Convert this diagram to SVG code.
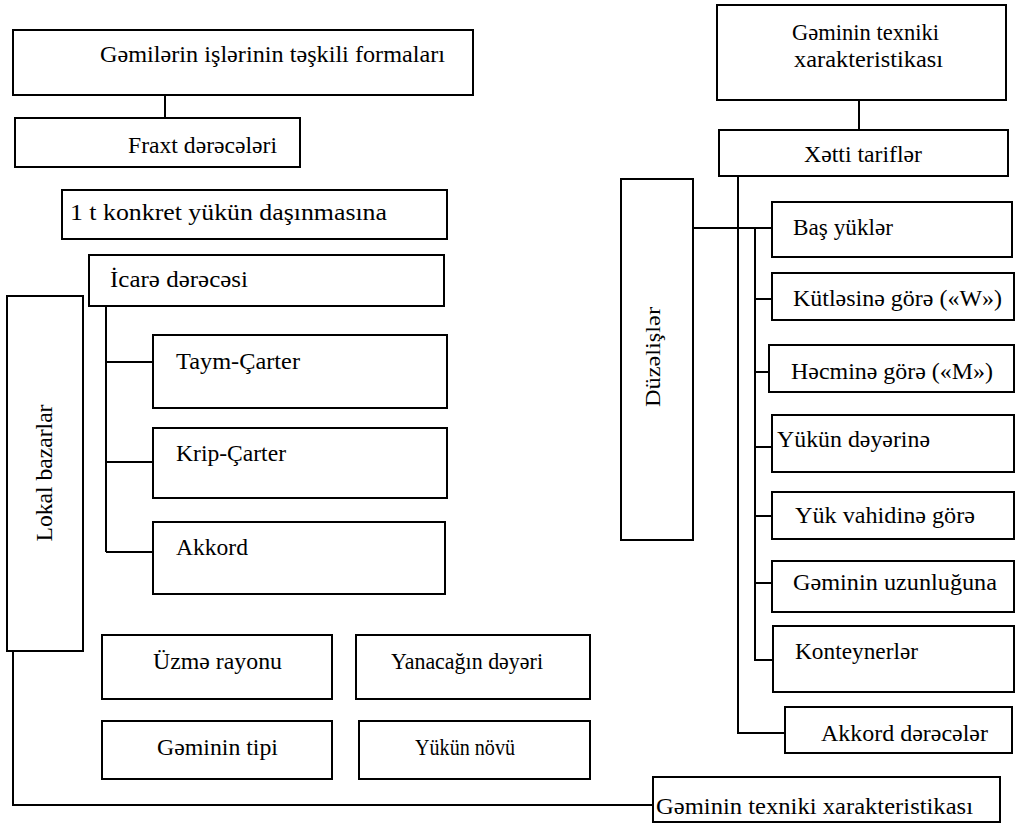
<svg xmlns="http://www.w3.org/2000/svg" width="1019" height="824" viewBox="0 0 1019 824">
<style>
rect{fill:#fff;stroke:#000;stroke-width:2}
.c path{fill:none;stroke:#000;stroke-width:2}
text{font-family:"Liberation Serif","Times New Roman",serif;font-size:23px;fill:#000}
</style>
<rect x="0" y="0" width="1019" height="824" style="stroke:none"/>
<g class="c" id="connectors">
<path d="M165 95V118"/>
<path d="M106 306V552M106 362H153M106 462H153M106 552H153"/>
<path d="M13 651V805H653"/>
<path d="M859 100V130"/>
<path d="M738 176V733H785"/>
<path d="M693 228H772"/>
<path d="M755 228V660H773M755 299H772M755 372H769M755 447H772M755 516H772M755 583H772"/>
</g>
<g id="n1"><rect x="13" y="30" width="460" height="65"/><text x="100" y="62" textLength="345" lengthAdjust="spacingAndGlyphs">Gəmilərin işlərinin təşkili formaları</text></g>
<g id="n2"><rect x="15" y="118" width="285" height="49"/><text x="128" y="153" textLength="149" lengthAdjust="spacingAndGlyphs">Fraxt dərəcələri</text></g>
<g id="n3"><rect x="62" y="190" width="385" height="49"/><text x="70" y="220" textLength="317" lengthAdjust="spacingAndGlyphs">1 t konkret yükün daşınmasına</text></g>
<g id="n4"><rect x="89" y="255" width="355" height="51"/><text x="110" y="287" textLength="138" lengthAdjust="spacingAndGlyphs">İcarə dərəcəsi</text></g>
<g id="n5"><rect x="7" y="296" width="76" height="355"/><text transform="translate(52 473) rotate(-90)" text-anchor="middle" textLength="137" lengthAdjust="spacingAndGlyphs">Lokal bazarlar</text></g>
<g id="n6"><rect x="153" y="335" width="294" height="73"/><text x="176" y="369" textLength="124" lengthAdjust="spacingAndGlyphs">Taym-Çarter</text></g>
<g id="n7"><rect x="153" y="428" width="294" height="70"/><text x="176" y="461" textLength="110" lengthAdjust="spacingAndGlyphs">Krip-Çarter</text></g>
<g id="n8"><rect x="153" y="522" width="292" height="72"/><text x="176" y="555" textLength="72" lengthAdjust="spacingAndGlyphs">Akkord</text></g>
<g id="n9"><rect x="102" y="635" width="230" height="64"/><text x="153" y="669" textLength="129" lengthAdjust="spacingAndGlyphs">Üzmə rayonu</text></g>
<g id="n10"><rect x="356" y="635" width="234" height="64"/><text x="391" y="669" textLength="152" lengthAdjust="spacingAndGlyphs">Yanacağın dəyəri</text></g>
<g id="n11"><rect x="102" y="721" width="230" height="58"/><text x="157" y="755" textLength="121" lengthAdjust="spacingAndGlyphs">Gəminin tipi</text></g>
<g id="n12"><rect x="359" y="721" width="231" height="58"/><text x="415" y="755" textLength="100" lengthAdjust="spacingAndGlyphs">Yükün növü</text></g>
<g id="n13"><rect x="653" y="777" width="347" height="45"/><text x="656" y="814" textLength="317" lengthAdjust="spacingAndGlyphs">Gəminin texniki xarakteristikası</text></g>
<g id="n14"><rect x="717" y="5" width="289" height="95"/><text x="792" y="40" textLength="147" lengthAdjust="spacingAndGlyphs">Gəminin texniki</text><text x="794" y="67" textLength="149" lengthAdjust="spacingAndGlyphs">xarakteristikası</text></g>
<g id="n15"><rect x="719" y="130" width="289" height="46"/><text x="804" y="162" textLength="118" lengthAdjust="spacingAndGlyphs">Xətti tariflər</text></g>
<g id="n16"><rect x="621" y="179" width="72" height="361"/><text transform="translate(660 357) rotate(-90)" text-anchor="middle" style="font-size:20px" textLength="100" lengthAdjust="spacingAndGlyphs">Düzəlişlər</text></g>
<g id="n17"><rect x="772" y="202" width="240" height="55"/><text x="793" y="235" textLength="100" lengthAdjust="spacingAndGlyphs">Baş yüklər</text></g>
<g id="n18"><rect x="772" y="273" width="242" height="47"/><text x="793" y="306" textLength="209" lengthAdjust="spacingAndGlyphs">Kütləsinə görə («W»)</text></g>
<g id="n19"><rect x="769" y="345" width="245" height="47"/><text x="791" y="379" textLength="202" lengthAdjust="spacingAndGlyphs">Həcminə görə («M»)</text></g>
<g id="n20"><rect x="772" y="415" width="242" height="57"/><text x="777" y="447" textLength="153" lengthAdjust="spacingAndGlyphs">Yükün dəyərinə</text></g>
<g id="n21"><rect x="772" y="492" width="242" height="47"/><text x="795" y="523" textLength="180" lengthAdjust="spacingAndGlyphs">Yük vahidinə görə</text></g>
<g id="n22"><rect x="772" y="561" width="242" height="51"/><text x="793" y="590" textLength="204" lengthAdjust="spacingAndGlyphs">Gəminin uzunluğuna</text></g>
<g id="n23"><rect x="773" y="626" width="241" height="66"/><text x="795" y="659" textLength="123" lengthAdjust="spacingAndGlyphs">Konteynerlər</text></g>
<g id="n24"><rect x="785" y="707" width="227" height="46"/><text x="821" y="741" textLength="167" lengthAdjust="spacingAndGlyphs">Akkord dərəcələr</text></g>
</svg>
